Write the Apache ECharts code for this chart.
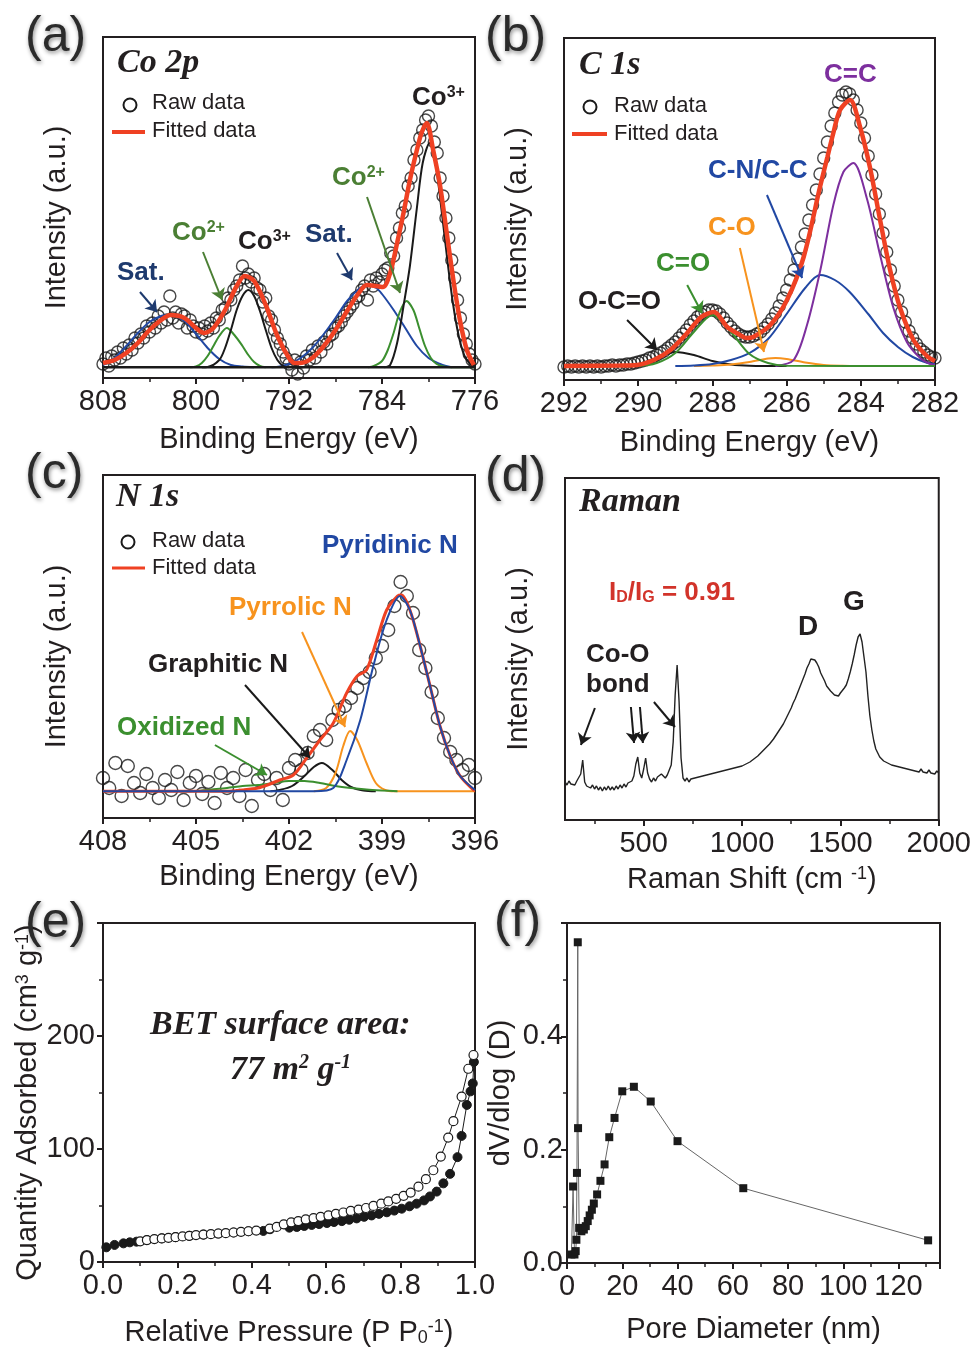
<!DOCTYPE html>
<html>
<head>
<meta charset="utf-8">
<title>XPS, Raman and BET</title>
<script src="https://cdn.jsdelivr.net/npm/echarts@6.0.0/dist/echarts.min.js"></script>
<style>
  html, body { margin: 0; padding: 0; background: #fff; }
  #main { width: 974px; height: 1348px; }
</style>
</head>
<body>
<div id="main"></div>
<script>
// ---------- (a) Co 2p ----------
var coBE = [808,807.75,807.5,807.25,807,806.75,806.5,806.25,806,805.75,805.5,805.25,805,804.75,804.5,804.25,804,803.75,803.5,803.25,803,802.75,802.5,802.25,802,801.75,801.5,801.25,801,800.75,800.5,800.25,800,799.75,799.5,799.25,799,798.75,798.5,798.25,798,797.75,797.5,797.25,797,796.75,796.5,796.25,796,795.75,795.5,795.25,795,794.75,794.5,794.25,794,793.75,793.5,793.25,793,792.75,792.5,792.25,792,791.75,791.5,791.25,791,790.75,790.5,790.25,790,789.75,789.5,789.25,789,788.75,788.5,788.25,788,787.75,787.5,787.25,787,786.75,786.5,786.25,786,785.75,785.5,785.25,785,784.75,784.5,784.25,784,783.75,783.5,783.25,783,782.75,782.5,782.25,782,781.75,781.5,781.25,781,780.75,780.5,780.25,780,779.75,779.5,779.25,779,778.75,778.5,778.25,778,777.75,777.5,777.25,777,776.75,776.5,776.25,776];
var coRaw = [14,20,12,22,18,26,20,30,24,33, 28,40,35,44,40,52,46,55,50,62, 55,66,58,82,60,66,55,64,62,50,
  58,52,46,50,44,52,47,55,50,60, 58,68,70,80,78,88,92,98,112,100, 104,96,100,90,88,76,80,62,58,48,
  40,34,26,20,14,8,18,4,16,10, 22,18,28,20,32,26,36,34,42,44, 50,52,56,62,66,70,74,80,82,88,
  92,78,98,92,100,96,104,108,110,125, 122,140,150,165,172,192,200,218,228,240, 248,258,262,252,236,225,200,182,160,140,
  118,100,78,60,44,34,24,18,14];
var coFit = [[808,15],[807,18],[806,25],[805,35],[804,48],[803,58],[802.2,63],[801,60],[800,50],[799.3,45],[798.5,50],[797.5,68],[796.5,92],[795.8,102],[795,97],[794,73],[793,42],[792,20],[791.5,15],[791,15],[790,20],[789,32],[788,48],[787,67],[786,85],[785.3,93],[784.5,92],[783.9,91],[783.3,105],[782.7,135],[782.15,165],[781.6,198],[781,228],[780.6,245],[780.15,255],[779.6,228],[779,192],[778.43,145],[777.86,98],[777.3,58],[776.7,28],[776.1,13]];
var coSat1 = [[808,13],[807,20],[806,32],[805,45],[804,56],[803,62],[802.2,63],[801,57],[800,44],[799,30],[798,19],[797,13],[796,11.5],[795,10.7]];
var coCo2a = [[800.5,10.7],[800,11.5],[799.5,15],[799,22],[798.5,32],[798,42],[797.35,50],[796.7,43],[796,32],[795.5,23],[795,16],[794.5,12],[794,10.7]];
var coCo3a = [[799.5,10.7],[799,11],[798,18],[797.5,30],[797,48],[796.5,68],[796,82],[795.5,88],[795,82],[794.5,67],[794,48],[793.5,30],[793,18],[792.5,12],[792,10.7]];
var coSat2 = [[793.5,10.7],[792.8,11.5],[792,14],[791,20],[790,30],[789,44],[788,60],[787,77],[786,89],[785.3,93],[784.5,90],[784,84],[783,68],[782,50],[781,32],[780,20],[779,14],[778.5,12],[778,10.7]];
var coCo2b = [[785.2,10.7],[784.7,12],[784,17],[783.5,28],[783,45],[782.5,65],[781.9,77],[781.3,68],[780.8,50],[780.3,32],[779.8,20],[779.3,14],[778.7,11.5],[778,10.7],[776,10.7]];
var coCo3b = [[783.8,10.7],[783.3,13],[782.7,35],[782.15,72],[781.6,112],[781,170],[780.5,215],[779.9,235],[779.4,215],[778.9,170],[778.4,120],[777.9,75],[777.4,42],[776.9,22],[776.4,14],[776,11]];
var coBase = [[808,10.7],[776,10.7]];

// ---------- (b) C 1s ----------
var cBE = [292,291.9,291.8,291.7,291.6,291.5,291.4,291.3,291.2,291.1,291,290.9,290.8,290.7,290.6,290.5,290.4,290.3,290.2,290.1,290,289.9,289.8,289.7,289.6,289.5,289.4,289.3,289.2,289.1,289,288.9,288.8,288.7,288.6,288.5,288.4,288.3,288.2,288.1,288,287.9,287.8,287.7,287.6,287.5,287.4,287.3,287.2,287.1,287,286.9,286.8,286.7,286.6,286.5,286.4,286.3,286.2,286.1,286,285.9,285.8,285.7,285.6,285.5,285.4,285.3,285.2,285.1,285,284.9,284.8,284.7,284.6,284.5,284.4,284.3,284.2,284.1,284,283.9,283.8,283.7,283.6,283.5,283.4,283.3,283.2,283.1,283,282.9,282.8,282.7,282.6,282.5,282.4,282.3,282.2,282.1,282];
var cRaw = [13,14,13,14,13,14,13,14,13,14, 13,14,14,15,14,15,15,16,16,17, 18,19,20,22,23,25,27,29,32,35,
  38,42,46,50,55,59,63,66,68,70, 70,69,66,62,57,53,49,46,44,43, 43,44,46,48,52,56,61,67,74,82,
  90,100,110,121,133,146,160,175,190,206, 222,238,254,267,278,285,288,286,280,270, 257,242,224,205,186,166,147,128,110,94,
  80,68,58,49,42,36,31,28,25,23, 22];
var cFit = [[292,14],[290.5,14.5],[290.03,15],[289.58,20],[289.13,30],[288.68,47],[288.3,63],[287.96,68],[287.6,53],[287.3,46],[287.07,42],[286.9,43],[286.44,55],[285.99,80],[285.54,123],[285.1,193],[284.9,223],[284.74,247],[284.56,270],[284.29,280],[284.02,253],[283.75,212],[283.48,160],[283.21,110],[282.94,72],[282.58,40],[282.22,24],[282,19]];
var cCC = [[286.3,14],[285.81,20],[285.45,55],[285.09,110],[284.74,175],[284.47,208],[284.2,217],[283.84,182],[283.48,125],[283.12,72],[282.76,38],[282.4,22],[282.13,16],[282,15]];
var cCN = [[289,14],[288.5,14.5],[288,16],[287.5,20],[287,27],[286.5,41],[286,66],[285.5,92],[285.1,105],[284.7,100],[284.3,88],[283.8,66],[283.4,47],[283,33],[282.6,23],[282.2,17],[282,16]];
var cCO2 = [[292,14],[290,14.3],[289.5,17],[289,27],[288.5,48],[288,65],[287.5,48],[287,26],[286.5,17],[286,14.3],[282,14]];
var cOCO = [[292,14],[290.5,14],[290,16],[289.5,22],[289,28],[288.5,25],[288,19],[287.5,15.5],[287,14.3],[286,14]];
var cCO = [[288.5,14],[288,14.5],[287.5,15.5],[287,18],[286.5,21.5],[286.3,22],[286,21],[285.5,17.5],[285,15],[284.5,14.2],[284,14]];

// ---------- (c) N 1s ----------
var nBE = [408,407.8,407.6,407.4,407.2,407,406.8,406.6,406.4,406.2,406,405.8,405.6,405.4,405.2,405,404.8,404.6,404.4,404.2,404,403.8,403.6,403.4,403.2,403,402.8,402.6,402.4,402.2,402,401.8,401.6,401.4,401.2,401,400.8,400.6,400.4,400.2,400,399.8,399.6,399.4,399.2,399,398.8,398.6,398.4,398.2,398,397.8,397.6,397.4,397.2,397,396.8,396.6,396.4,396.2,396];
var nRaw = [40,30,55,22,52,35,25,44,30,20, 38,28,46,18,35,42,24,36,15,45, 30,40,22,48,12,38,44,28,40,18,
  50,58,48,65,82,88,78,98,108,112, 120,130,140,146,160,172,188,212,236,222, 205,168,150,126,100,80,66,58,48,53, 40];
var nFit = [[408,26.7],[404,26.7],[403.5,28],[403,30],[402.7,33],[402.3,38],[401.86,43],[401.43,60],[401,78],[400.57,95],[400.14,125],[399.8,142],[399.5,148],[399.17,178],[398.85,208],[398.5,222],[398.37,223],[398.1,208],[397.77,172],[397.45,132],[397.13,92],[396.8,62],[396.48,42],[396.05,28],[396,27.5]];
var nPyridinic = [[408,26.7],[401.2,26.7],[400.57,30],[400.14,58],[399.7,98],[399.28,152],[398.85,198],[398.42,222],[398.1,208],[397.77,172],[397.45,132],[397.13,92],[396.8,62],[396.48,42],[396,28]];
var nPyrrolic = [[401.2,26.7],[400.8,30],[400.5,45],[400.25,72],[400.03,87],[399.8,78],[399.5,55],[399.2,35],[398.9,28],[398.6,26.7],[396,26.7]];
var nGraphitic = [[402.6,26.7],[402.3,28],[401.9,32],[401.5,42],[401.2,51],[400.94,55],[400.6,48],[400.3,38],[400,31],[399.6,27.5],[399.2,26.7]];
var nOxidized = [[405.5,26.7],[405,27],[404.5,28.5],[404,30],[403.5,32],[403,33],[402.5,35],[402,37],[401.5,37],[401,35],[400.5,32],[400,30],[399.5,28.5],[399,27.5],[398.5,26.7]];

// ---------- (d) Raman ----------
var ramanShift = [100,110,120,130,140,150,160,170,180,190,200,210,220,230,240,250,260,270,280,290,300,310,320,330,340,350,360,370,380,390,400,410,420,430,440,450,460,470,480,490,500,510,520,530,540,550,560,570,580,590,600,610,620,630,640,650,660,670,680,690,700,710,720,730,740,750,760,770,780,790,800,810,820,830,840,850,860,870,880,890,900,910,920,930,940,950,960,970,980,990,1000,1010,1020,1030,1040,1050,1060,1070,1080,1090,1100,1110,1120,1130,1140,1150,1160,1170,1180,1190,1200,1210,1220,1230,1240,1250,1260,1270,1280,1290,1300,1310,1320,1330,1340,1350,1360,1370,1380,1390,1400,1410,1420,1430,1440,1450,1460,1470,1480,1490,1500,1510,1520,1530,1540,1550,1560,1570,1580,1590,1600,1610,1620,1630,1640,1650,1660,1670,1680,1690,1700,1710,1720,1730,1740,1750,1760,1770,1780,1790,1800,1810,1820,1830,1840,1850,1860,1870,1880,1890,1900,1910,1920,1930,1940,1950,1960,1970,1980,1990,2000];
var ramanI = [38,35,39,36,38,35,39,37,46,60, 38,34,36,32,35,31,34,30,33,29, 33,30,34,30,33,30,34,31,35,32,
  36,33,37,35,39,44,56,63,47,42, 51,62,47,41,38,42,39,43,41,46, 48,42,45,47,55,78,125,155,118,62,
  42,39,42,38,41,39,42,40,43,41, 44,42,45,43,46,44,47,45,48,46, 49,47,50,48,51,49,52,50,53,51,
  54,53,56,55,58,58,61,61,64,65, 68,69,72,73,76,78,81,83,87,89, 93,96,100,104,108,112,117,121,126,131,
  136,141,146,152,156,161,163,160,157,153, 147,143,139,134,132,129,127,125,126,124, 127,128,132,135,141,148,156,165,175,183,
  186,178,163,148,124,104,90,79,71,67, 63,62,59,60,57,58,55,57,54,56, 53,55,52,54,51,53,50,52,49,51,
  48,51,48,50,47,50,47,49,46,49, 47];

// ---------- (e) N2 isotherm ----------
var adsP = [0.009,0.031,0.055,0.072,0.09,0.118,0.158,0.195,0.232,0.27,0.31,0.351,0.391,0.431,0.449,0.501,0.521,0.541,0.561,0.581,0.602,0.621,0.642,0.662,0.682,0.702,0.722,0.742,0.763,0.783,0.803,0.824,0.843,0.863,0.879,0.897,0.915,0.933,0.953,0.964,0.978,0.988,0.994,0.997];
var adsQ = [13,15.1,16.5,17.4,18,19.4,20.9,22,23.2,24.3,25.2,26.1,27.2,27.5,29,30.4,31,31.9,32.8,33.6,34.5,35.4,36.2,37.4,38.6,40,41.2,42.6,44,45.5,47.2,49.3,51.6,54.5,58,62.3,69.6,78,92.8,111.6,139,151,158,177];
var desP = [0.1,0.118,0.138,0.158,0.176,0.195,0.214,0.232,0.25,0.27,0.29,0.31,0.33,0.351,0.371,0.391,0.412,0.448,0.467,0.486,0.506,0.525,0.545,0.566,0.585,0.606,0.626,0.646,0.666,0.687,0.707,0.727,0.748,0.767,0.788,0.808,0.827,0.848,0.868,0.888,0.908,0.928,0.942,0.964,0.982,0.996];
var desQ = [18.3,19.4,20.3,20.9,21.4,22,22.6,23.2,23.8,24.3,24.6,25.2,25.5,26.1,26.7,27.2,27.8,29.6,31,33.3,35.1,36.2,37.7,38.8,40,41.2,42.6,43.8,45.2,46.4,47.8,49.6,51.6,53.6,55.9,58.6,61.4,66.7,73.3,81.2,93.3,110.1,124.6,146.4,171,183.2];

// ---------- (f) pore size distribution ----------
var poreD = [1.6,2.2,2.7,3.15,3.4,3.6,3.9,4.0,4.4,5.2,6.1,6.8,7.5,8.2,9.0,9.7,10.9,12.1,13.6,15.3,17.2,20.0,24.2,30.3,40.0,63.8,130.7];
var poreV = [0.015,0.135,0.015,0.021,0.041,0.159,0.566,0.238,0.062,0.056,0.059,0.065,0.074,0.084,0.094,0.105,0.121,0.145,0.174,0.222,0.256,0.303,0.311,0.285,0.215,0.132,0.040];

var FONT = 'Liberation Sans, Arial, Helvetica, sans-serif';
var SERIF = 'Liberation Serif, Times New Roman, serif';
var INK = '#231f20';
var RED = '#ef4123';
var NAVY = '#1e3a6e', OLIVE = '#4b7f34';
var BLUE = '#2148a3', GREEN = '#3b8f2f', PURPLE = '#7d2f9e', ORANGE = '#f7931e', DARK = '#1a1a1a';

function zip(xs, ys) { return xs.map(function (x, i) { return [x, ys[i]]; }); }

function xAx(grid, o) {
  var lab = {fontFamily: FONT, fontSize: 29, color: INK, margin: 9};
  for (var k in (o.label || {})) lab[k] = o.label[k];
  var ax = {
    type: 'value', gridIndex: grid, position: 'bottom',
    min: o.min, max: o.max, inverse: !!o.inverse,
    name: o.name, nameLocation: 'middle', nameGap: o.gap,
    nameTextStyle: {fontFamily: FONT, fontSize: 29, color: INK, rich: o.rich},
    axisLine: {show: true, onZero: false, lineStyle: {color: INK, width: 2}},
    axisTick: {show: true, length: 6, lineStyle: {color: INK, width: 2}},
    minorTick: {show: o.minor !== false, splitNumber: 2, length: 4, lineStyle: {color: INK, width: 1.5}},
    splitLine: {show: false},
    axisLabel: lab
  };
  if (o.interval) ax.interval = o.interval;
  if (o.ticks) ax.axisTick.customValues = o.ticks;
  return ax;
}
function yBlank(grid, max) {
  return {
    type: 'value', gridIndex: grid, min: 0, max: max,
    name: 'Intensity (a.u.)', nameLocation: 'middle', nameGap: 32,
    nameTextStyle: {fontFamily: FONT, fontSize: 29, color: INK, padding: [0, 20, 0, 0]},
    axisLine: {show: true, onZero: false, lineStyle: {color: INK, width: 2}},
    axisTick: {show: false}, axisLabel: {show: false}, splitLine: {show: false}
  };
}
function fit(grid, data, color, width) {
  return {type: 'line', xAxisIndex: grid, yAxisIndex: grid, data: data, symbol: 'none', showSymbol: false,
    smooth: 0.3, lineStyle: {color: color, width: width || 2}, silent: true, animation: false};
}
function raw(grid, data, size) {
  return {type: 'scatter', xAxisIndex: grid, yAxisIndex: grid, data: data, symbol: 'circle', symbolSize: size,
    itemStyle: {color: 'rgba(0,0,0,0)', borderColor: DARK, borderWidth: 1.4}, silent: true, animation: false};
}
function arrows(list) {
  return {
    silent: true, animation: false, symbol: ['none', 'arrow'], symbolSize: 11,
    label: {show: false}, emphasis: {disabled: true},
    data: list.map(function (a) {
      return [{coord: [a[0], a[1]], lineStyle: {color: a[4], width: 2, type: 'solid'}, itemStyle: {color: a[4]}},
              {coord: [a[2], a[3]]}];
    })
  };
}
function bold(color, size) {
  size = size || 26;
  var sub = Math.round(size * 0.62);
  return {fontFamily: FONT, fontSize: size, fontWeight: 'bold', color: color,
    rich: {
      s: {fontFamily: FONT, fontSize: sub, fontWeight: 'bold', color: color, verticalAlign: 'top'},
      d: {fontFamily: FONT, fontSize: sub, fontWeight: 'bold', color: color, verticalAlign: 'bottom'}
    }};
}
function lbl(text, left, top, style) {
  return {text: text, left: left, top: top, padding: 0, textStyle: style};
}

var sPanel = {fontFamily: FONT, fontSize: 50, color: '#2b2b2b', fontWeight: 'normal',
  textShadowColor: 'rgba(0,0,0,0.45)', textShadowBlur: 4, textShadowOffsetX: 1, textShadowOffsetY: 2};
var sHead = {fontFamily: SERIF, fontSize: 34, fontWeight: 'bold', fontStyle: 'italic', color: INK,
  rich: {s: {fontFamily: SERIF, fontSize: 20, fontWeight: 'bold', fontStyle: 'italic', color: INK, verticalAlign: 'top'}}};
var sLeg = {fontFamily: FONT, fontSize: 22, fontWeight: 'normal', color: INK};
var supRich = {s: {fontFamily: FONT, fontSize: 18, color: INK, verticalAlign: 'top'},
               d: {fontFamily: FONT, fontSize: 18, color: INK, verticalAlign: 'bottom'}};

var option = {
  backgroundColor: '#fff',
  animation: false,
  title: [
    lbl('(a)', 25, 12, sPanel), lbl('(b)', 485, 12, sPanel), lbl('(c)', 25, 449, sPanel),
    lbl('(d)', 485, 452, sPanel), lbl('(e)', 25, 898, sPanel), lbl('(f)', 494, 897, sPanel),
    lbl('Co 2p', 117, 46, sHead), lbl('C 1s', 579, 48, sHead), lbl('N 1s', 116, 480, sHead),
    lbl('Raman', 579, 485, sHead),
    lbl('Raw data', 152, 92, sLeg), lbl('Fitted data', 152, 120, sLeg),
    lbl('Raw data', 614, 95, sLeg), lbl('Fitted data', 614, 123, sLeg),
    lbl('Raw data', 152, 530, sLeg), lbl('Fitted data', 152, 557, sLeg),
    lbl('Co{s|3+}', 412, 85, bold(INK)), lbl('Co{s|2+}', 332, 165, bold(OLIVE)),
    lbl('Sat.', 305, 222, bold(NAVY)), lbl('Co{s|3+}', 238, 229, bold(INK)),
    lbl('Co{s|2+}', 172, 220, bold(OLIVE)), lbl('Sat.', 117, 260, bold(NAVY)),
    lbl('C=C', 824, 62, bold(PURPLE)), lbl('C-N/C-C', 708, 158, bold(BLUE)),
    lbl('C-O', 708, 215, bold(ORANGE)), lbl('C=O', 656, 251, bold(GREEN)),
    lbl('O-C=O', 578, 289, bold(INK)),
    lbl('Pyridinic N', 322, 533, bold(BLUE)), lbl('Pyrrolic N', 229, 595, bold(ORANGE)),
    lbl('Graphitic N', 148, 652, bold(INK)), lbl('Oxidized N', 117, 715, bold(GREEN)),
    lbl('I{d|D}/I{d|G} = 0.91', 609, 580, bold('#d2332a')),
    lbl('D', 798, 613, bold(INK, 28)), lbl('G', 843, 588, bold(INK, 28)),
    lbl('Co-O', 586, 642, bold(INK)), lbl('bond', 586, 672, bold(INK)),
    lbl('BET surface area:', 150, 1008, sHead),
    lbl('77 m{s|2} g{s|-1}', 230, 1053, sHead)
  ],
  grid: [
    {left: 103, top: 37, width: 372, height: 341},
    {left: 564, top: 38, width: 371, height: 342},
    {left: 103, top: 475, width: 372, height: 343},
    {left: 565, top: 478, width: 374, height: 342},
    {left: 103, top: 923, width: 372, height: 344},
    {left: 567, top: 923, width: 373, height: 340}
  ].map(function (g) { g.show = true; g.borderColor = INK; g.borderWidth = 2; g.containLabel = false; return g; }),
  xAxis: [
    xAx(0, {min: 776, max: 808, interval: 8, inverse: true, name: 'Binding Energy (eV)', gap: 47}),
    xAx(1, {min: 282, max: 292, interval: 2, inverse: true, name: 'Binding Energy (eV)', gap: 48}),
    xAx(2, {min: 396, max: 408, interval: 3, inverse: true, name: 'Binding Energy (eV)', gap: 44}),
    xAx(3, {min: 100, max: 2000, minor: false, name: 'Raman Shift (cm {s|-1})', gap: 45, rich: supRich,
      ticks: [500, 1000, 1500, 2000],
      label: {customValues: [500, 1000, 1500, 2000], formatter: function (v) { return String(v); }}}),
    xAx(4, {min: 0, max: 1, interval: 0.2, name: 'Relative Pressure (P P{d|0}{s|-1})', gap: 56, rich: supRich,
      label: {formatter: function (v) { return v.toFixed(1); }}}),
    xAx(5, {min: 0, max: 135, interval: 20, name: 'Pore Diameter (nm)', gap: 52, label: {showMaxLabel: false}}),
    {type: 'value', gridIndex: 3, position: 'bottom', min: 100, max: 2000,
      axisLine: {show: false}, axisLabel: {show: false}, splitLine: {show: false},
      axisTick: {show: true, length: 4, customValues: [250, 750, 1250, 1750], lineStyle: {color: INK, width: 1.5}}}
  ],
  yAxis: [
    yBlank(0, 341), yBlank(1, 342), yBlank(2, 343), yBlank(3, 342),
    {type: 'value', gridIndex: 4, min: 0, max: 300, interval: 100,
      name: 'Quantity Adsorbed (cm{s|3} g{s|-1})', nameLocation: 'middle', nameGap: 58,
      nameTextStyle: {fontFamily: FONT, fontSize: 29, color: INK, rich: supRich, padding: [0, 20, 0, 0]},
      axisLine: {show: true, onZero: false, lineStyle: {color: INK, width: 2}},
      axisTick: {show: true, length: 6, lineStyle: {color: INK, width: 2}},
      minorTick: {show: true, splitNumber: 2, length: 4, lineStyle: {color: INK, width: 1.5}},
      splitLine: {show: false},
      axisLabel: {fontFamily: FONT, fontSize: 29, color: INK, margin: 8, showMaxLabel: false}},
    {type: 'value', gridIndex: 5, min: 0, max: 0.6, interval: 0.2,
      name: 'dV/dlog (D)', nameLocation: 'middle', nameGap: 52,
      nameTextStyle: {fontFamily: FONT, fontSize: 29, color: INK},
      axisLine: {show: true, onZero: false, lineStyle: {color: INK, width: 2}},
      axisTick: {show: true, length: 6, lineStyle: {color: INK, width: 2}},
      minorTick: {show: true, splitNumber: 2, length: 4, lineStyle: {color: INK, width: 1.5}},
      splitLine: {show: false},
      axisLabel: {fontFamily: FONT, fontSize: 29, color: INK, margin: 4, showMaxLabel: false,
        formatter: function (v) { return v.toFixed(1); }}}
  ],
  series: [
    // (a)
    raw(0, zip(coBE, coRaw), 12),
    fit(0, coSat1, BLUE), fit(0, coSat2, BLUE),
    fit(0, coCo2a, GREEN), fit(0, coCo2b, GREEN),
    fit(0, coCo3a, DARK), fit(0, coCo3b, DARK),
    Object.assign(fit(0, coBase, DARK, 2.5), {smooth: false, markLine: arrows([
      [804.82, 86, 803.35, 66, NAVY], [799.4, 126, 797.76, 78, OLIVE],
      [787.87, 125, 786.58, 98, NAVY], [785.29, 181, 782.45, 85, OLIVE]])}),
    fit(0, coFit, RED, 4.5),
    // (b)
    raw(1, zip(cBE, cRaw), 12),
    fit(1, cOCO, DARK), fit(1, cCO, ORANGE), fit(1, cCN, BLUE), fit(1, cCC, PURPLE),
    Object.assign(fit(1, cCO2, GREEN), {markLine: arrows([
      [286.53, 185, 285.58, 102, BLUE], [287.26, 132, 286.61, 28, ORANGE],
      [288.68, 95, 288.28, 67, GREEN], [290.3, 60, 289.49, 30, DARK]])}),
    fit(1, cFit, RED, 4.5),
    // (c)
    raw(2, zip(nBE, nRaw), 13),
    fit(2, nGraphitic, DARK), fit(2, nPyrrolic, ORANGE),
    Object.assign(fit(2, nOxidized, GREEN), {markLine: arrows([
      [401.58, 186, 400.19, 91, ORANGE], [403.42, 133, 401.32, 60, DARK],
      [404.39, 73, 402.71, 43, GREEN]])}),
    fit(2, nFit, RED, 3), fit(2, nPyridinic, BLUE),
    // (d)
    Object.assign(fit(3, zip(ramanShift, ramanI), '#222', 1.4), {smooth: false, markLine: arrows([
      [252, 112, 181, 75, DARK], [435, 113, 451, 77, DARK],
      [481, 113, 496, 77, DARK], [552, 118, 659, 93, DARK]])}),
    // (e)
    {type: 'line', xAxisIndex: 4, yAxisIndex: 4, data: zip(adsP, adsQ), symbol: 'circle', symbolSize: 9,
      itemStyle: {color: DARK, borderColor: DARK, borderWidth: 1}, lineStyle: {color: DARK, width: 1},
      silent: true, animation: false},
    {type: 'line', xAxisIndex: 4, yAxisIndex: 4, data: zip(desP, desQ), symbol: 'circle', symbolSize: 9,
      itemStyle: {color: '#fff', borderColor: DARK, borderWidth: 1.2}, lineStyle: {color: DARK, width: 1},
      silent: true, animation: false},
    // (f)
    {type: 'line', xAxisIndex: 5, yAxisIndex: 5, data: zip(poreD, poreV), symbol: 'rect', symbolSize: 8,
      itemStyle: {color: DARK}, lineStyle: {color: '#666', width: 1}, silent: true, animation: false}
  ],
  graphic: [
    {type: 'circle', shape: {cx: 130, cy: 105, r: 6.5}, style: {fill: 'none', stroke: DARK, lineWidth: 2}},
    {type: 'line', shape: {x1: 112, y1: 132, x2: 145, y2: 132}, style: {stroke: RED, lineWidth: 4}},
    {type: 'circle', shape: {cx: 590, cy: 107, r: 6.5}, style: {fill: 'none', stroke: DARK, lineWidth: 2}},
    {type: 'line', shape: {x1: 572, y1: 134, x2: 607, y2: 134}, style: {stroke: RED, lineWidth: 4}},
    {type: 'circle', shape: {cx: 128, cy: 542, r: 6.5}, style: {fill: 'none', stroke: DARK, lineWidth: 2}},
    {type: 'line', shape: {x1: 112, y1: 568, x2: 145, y2: 568}, style: {stroke: RED, lineWidth: 3}}
  ]
};

var chart = echarts.init(document.getElementById('main'));
chart.setOption(option);
</script>
</body>
</html>
